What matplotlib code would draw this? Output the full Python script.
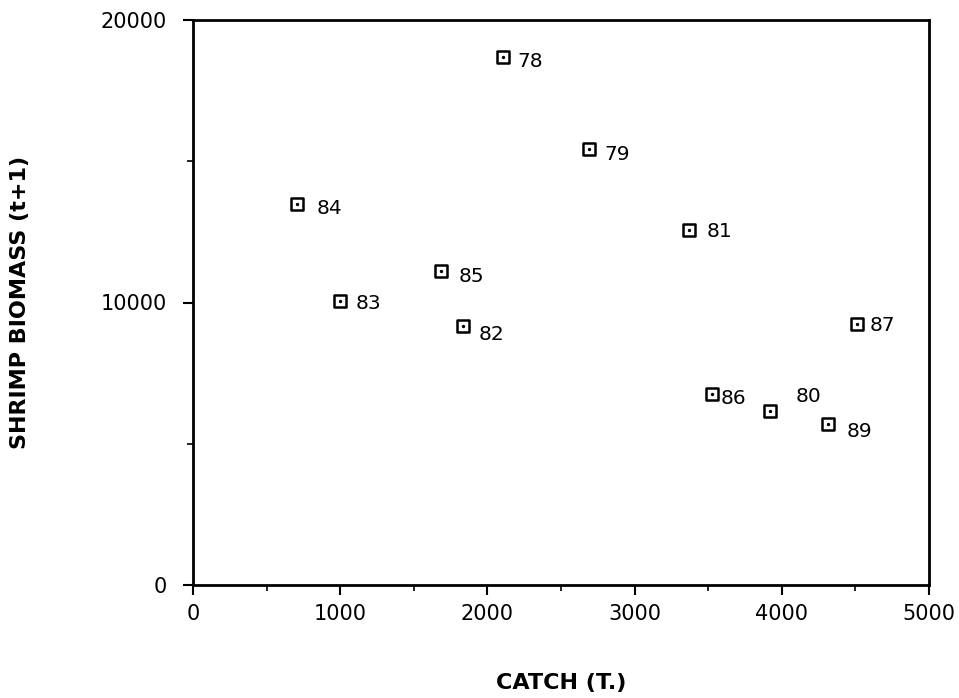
import matplotlib
matplotlib.use("Agg")
import matplotlib.pyplot as plt
from matplotlib.ticker import MultipleLocator

# Data
years = ["78", "79", "84", "81", "85", "83", "82", "87", "86", "80", "89"]
catch = [2106, 2690, 707, 3370, 1685, 999, 1834, 4511, 3526, 3920, 4314]
biomass = [18690, 15430, 13490, 12570, 11110, 10050, 9170, 9240, 6760, 6160, 5700]

x_ticks = [0, 1000, 2000, 3000, 4000, 5000]
y_ticks = [0, 10000, 20000]

# label offsets in pixels (dx right, dy up)
label_offsets = [(14, -4), (15, -5), (20, -5), (18, -2), (18, -5), (16, -2),
                 (16, -9), (13, -2), (9, -4), (26, 14), (19, -8)]

W, H, DPI = 959, 698, 100
fig = plt.figure(figsize=(W / DPI, H / DPI), dpi=DPI)
ax = fig.add_axes([193 / W, 1 - 585 / H, (929 - 193) / W, (585 - 20) / H])

ax.scatter(catch, biomass, marker="s", s=72, facecolors="white",
           edgecolors="black", linewidths=1.8, zorder=3)
ax.scatter(catch, biomass, marker="o", s=2, color="black", zorder=4)

px = 72 / DPI
for xv, yv, lab, (dx, dy) in zip(catch, biomass, years, label_offsets):
    ax.annotate(lab, (xv, yv), xytext=(dx * px, dy * px), textcoords="offset points",
                ha="left", va="center", fontsize=14.5, color="black")

ax.set_xlim(0, 5000)
ax.set_ylim(0, 20000)
ax.set_xticks(x_ticks)
ax.set_yticks(y_ticks)
ax.xaxis.set_minor_locator(MultipleLocator(500))
ax.yaxis.set_minor_locator(MultipleLocator(5000))
ax.tick_params(axis="both", which="major", direction="out", length=7, width=1.5,
               labelsize=15)
ax.tick_params(axis="y", which="major", pad=12)
ax.tick_params(axis="x", which="major", pad=7)
ax.tick_params(axis="both", which="minor", direction="out", length=4, width=1.2)
for s in ax.spines.values():
    s.set_linewidth(2.0)

fig.text(561 / W, 1 - 683 / H, "CATCH (T.)", ha="center", va="center",
         fontsize=16, fontweight="bold")
fig.text(20 / W, 1 - 302 / H, "SHRIMP BIOMASS (t+1)", ha="center", va="center",
         rotation=90, fontsize=16, fontweight="heavy")

fig.savefig("out.png", dpi=DPI)
